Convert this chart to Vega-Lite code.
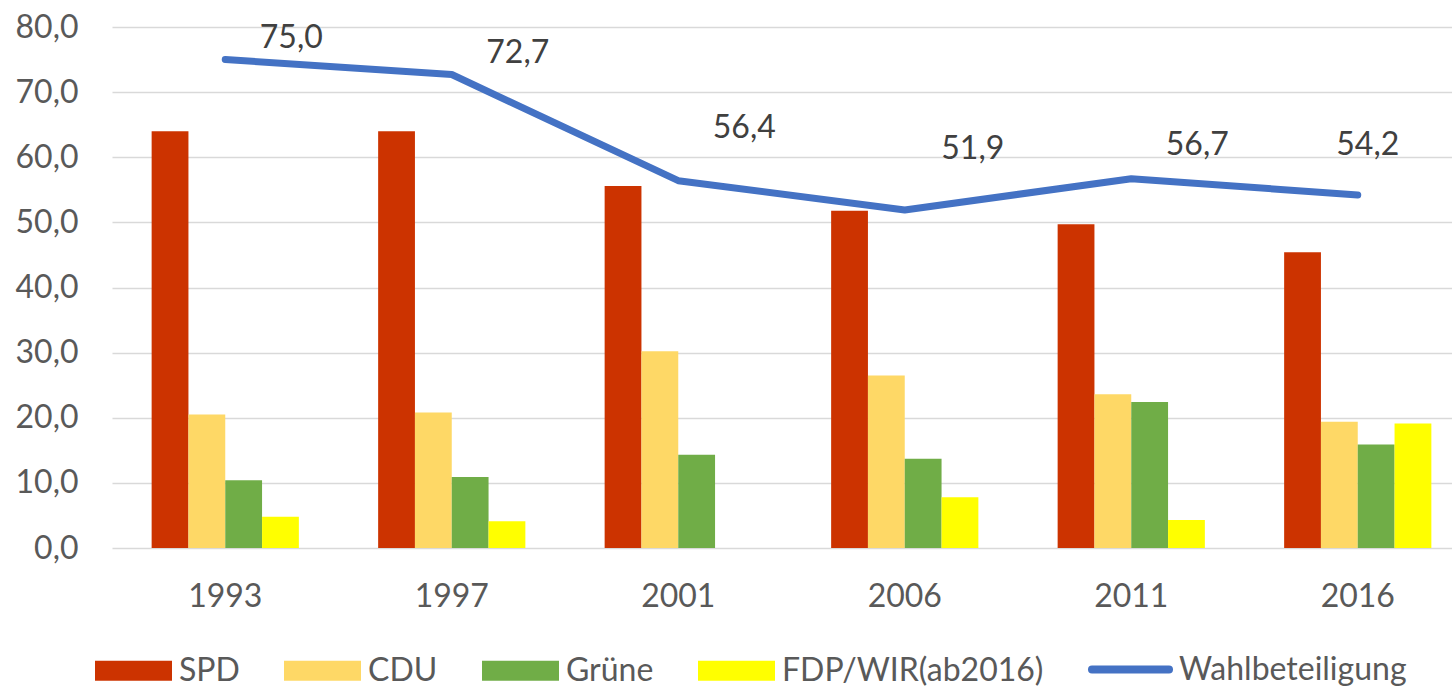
{
  "$schema": "https://vega.github.io/schema/vega-lite/v6.json",
  "width": 1359,
  "height": 521,
  "autosize": {"type": "none"},
  "padding": {"left": 112, "top": 27, "right": 0, "bottom": 141},
  "background": "white",
  "config": {
    "locale": {"number": {"decimal": ",", "thousands": ".", "grouping": [3], "currency": ["", " €"]}},
    "view": {"stroke": null},
    "font": "Lato",
    "axis": {"labelFont": "Lato", "labelFontSize": 32, "labelColor": "#595959", "title": null},
    "legend": {"labelFont": "Lato", "labelFontSize": 32, "labelColor": "#595959", "padding": 0, "title": null, "labelLimit": 500}
  },
  "datasets": {
    "bars": [
      {"year": "1993", "party": "SPD", "value": 64.0},
      {"year": "1993", "party": "CDU", "value": 20.5},
      {"year": "1993", "party": "Grüne", "value": 10.4},
      {"year": "1993", "party": "FDP/WIR(ab2016)", "value": 4.8},
      {"year": "1997", "party": "SPD", "value": 64.0},
      {"year": "1997", "party": "CDU", "value": 20.8},
      {"year": "1997", "party": "Grüne", "value": 10.9},
      {"year": "1997", "party": "FDP/WIR(ab2016)", "value": 4.1},
      {"year": "2001", "party": "SPD", "value": 55.6},
      {"year": "2001", "party": "CDU", "value": 30.2},
      {"year": "2001", "party": "Grüne", "value": 14.3},
      {"year": "2006", "party": "SPD", "value": 51.8},
      {"year": "2006", "party": "CDU", "value": 26.5},
      {"year": "2006", "party": "Grüne", "value": 13.7},
      {"year": "2006", "party": "FDP/WIR(ab2016)", "value": 7.8},
      {"year": "2011", "party": "SPD", "value": 49.7},
      {"year": "2011", "party": "CDU", "value": 23.6},
      {"year": "2011", "party": "Grüne", "value": 22.4},
      {"year": "2011", "party": "FDP/WIR(ab2016)", "value": 4.3},
      {"year": "2016", "party": "SPD", "value": 45.4},
      {"year": "2016", "party": "CDU", "value": 19.4},
      {"year": "2016", "party": "Grüne", "value": 15.9},
      {"year": "2016", "party": "FDP/WIR(ab2016)", "value": 19.1}
    ],
    "turnout": [
      {"year": "1993", "series": "Wahlbeteiligung", "value": 75.0},
      {"year": "1997", "series": "Wahlbeteiligung", "value": 72.7},
      {"year": "2001", "series": "Wahlbeteiligung", "value": 56.4},
      {"year": "2006", "series": "Wahlbeteiligung", "value": 51.9},
      {"year": "2011", "series": "Wahlbeteiligung", "value": 56.7},
      {"year": "2016", "series": "Wahlbeteiligung", "value": 54.2}
    ]
  },
  "encoding": {
    "x": {
      "field": "year", "type": "nominal",
      "scale": {"paddingInner": 0.35, "paddingOuter": 0.175},
      "axis": {"labelAngle": 0, "ticks": false, "tickSize": 0, "domain": false, "grid": false, "labelPadding": 33, "labelBaseline": "top"}
    },
    "y": {
      "field": "value", "type": "quantitative",
      "scale": {"domain": [0, 80], "nice": false, "zero": true},
      "axis": {"values": [0, 10, 20, 30, 40, 50, 60, 70, 80], "format": ".1f", "ticks": false, "tickSize": 0, "domain": false, "grid": true, "gridColor": "#D9D9D9", "gridWidth": 1.5, "labelPadding": 34}
    }
  },
  "layer": [
    {
      "data": {"name": "bars"},
      "mark": {"type": "bar"},
      "encoding": {
        "xOffset": {"field": "party", "type": "nominal", "sort": ["SPD", "CDU", "Grüne", "FDP/WIR(ab2016)"], "scale": {"paddingInner": 0, "paddingOuter": 0}},
        "color": {
          "field": "party", "type": "nominal",
          "scale": {"domain": ["SPD", "CDU", "Grüne", "FDP/WIR(ab2016)"], "range": ["#CC3300", "#FED866", "#70AD47", "#FFFF00"]},
          "legend": {
            "orient": "none", "direction": "horizontal", "legendX": -17, "legendY": 605,
            "symbolType": "M-1,-0.26H1V0.26H-1Z", "symbolSize": 5929, "symbolStrokeWidth": 0,
            "labelOffset": 7, "columnPadding": 44
          }
        }
      }
    },
    {
      "data": {"name": "turnout"},
      "mark": {"type": "line", "strokeWidth": 7, "strokeCap": "round", "strokeJoin": "round"},
      "encoding": {
        "stroke": {
          "field": "series", "type": "nominal",
          "scale": {"domain": ["Wahlbeteiligung"], "range": ["#4472C4"]},
          "legend": {
            "orient": "none", "direction": "horizontal", "legendX": 976, "legendY": 600,
            "symbolType": "stroke", "symbolSize": 5929, "symbolStrokeWidth": 8,
            "labelOffset": 6,
            "encode": {"symbols": {"update": {"strokeCap": {"value": "round"}}}}
          }
        }
      }
    },
    {
      "data": {"name": "turnout"},
      "transform": [{"filter": "datum.year === '1993' || datum.year === '1997'"}],
      "mark": {"type": "text", "font": "Lato", "fontSize": 32, "color": "#404040", "dx": 66, "dy": -22, "baseline": "middle", "align": "center"},
      "encoding": {"text": {"field": "value", "type": "quantitative", "format": ".1f"}}
    },
    {
      "data": {"name": "turnout"},
      "transform": [{"filter": "datum.year === '2001'"}],
      "mark": {"type": "text", "font": "Lato", "fontSize": 32, "color": "#404040", "dx": 66, "dy": -53, "baseline": "middle", "align": "center"},
      "encoding": {"text": {"field": "value", "type": "quantitative", "format": ".1f"}}
    },
    {
      "data": {"name": "turnout"},
      "transform": [{"filter": "datum.year === '2006'"}],
      "mark": {"type": "text", "font": "Lato", "fontSize": 32, "color": "#404040", "dx": 68, "dy": -61, "baseline": "middle", "align": "center"},
      "encoding": {"text": {"field": "value", "type": "quantitative", "format": ".1f"}}
    },
    {
      "data": {"name": "turnout"},
      "transform": [{"filter": "datum.year === '2011'"}],
      "mark": {"type": "text", "font": "Lato", "fontSize": 32, "color": "#404040", "dx": 66, "dy": -34, "baseline": "middle", "align": "center"},
      "encoding": {"text": {"field": "value", "type": "quantitative", "format": ".1f"}}
    },
    {
      "data": {"name": "turnout"},
      "transform": [{"filter": "datum.year === '2016'"}],
      "mark": {"type": "text", "font": "Lato", "fontSize": 32, "color": "#404040", "dx": 10, "dy": -50, "baseline": "middle", "align": "center"},
      "encoding": {"text": {"field": "value", "type": "quantitative", "format": ".1f"}}
    }
  ]
}
